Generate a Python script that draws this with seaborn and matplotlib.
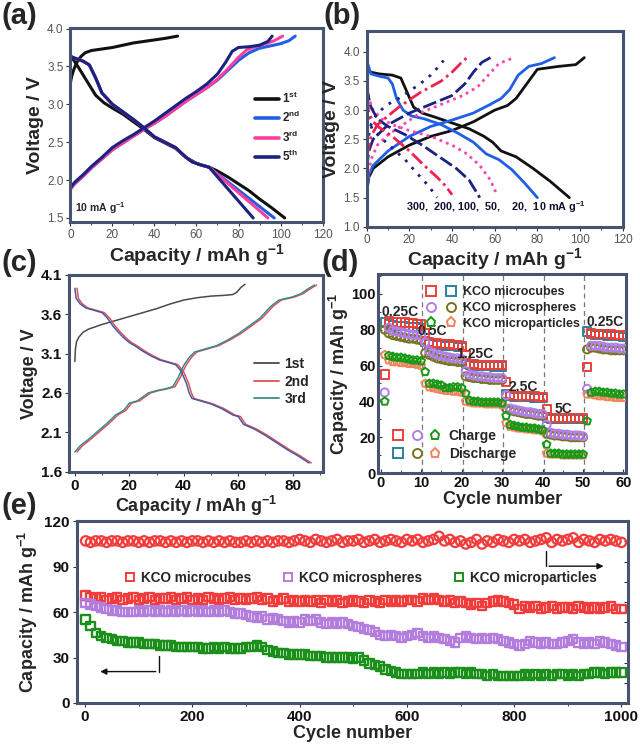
import matplotlib
matplotlib.use("Agg")
import matplotlib.pyplot as plt
import seaborn as sns
import numpy as np
from matplotlib.lines import Line2D
from matplotlib.legend_handler import HandlerTuple
from matplotlib.ticker import MultipleLocator

# ---------------- panel (a): first cycles at 10 mA/g ----------------
a1_chg_cap = [0, 0.5, 1.5, 3, 5, 7, 10, 15, 20, 25, 30, 35, 40, 45, 51]
a1_chg_v = [3.28, 3.36, 3.45, 3.55, 3.63, 3.68, 3.71, 3.73, 3.75, 3.78, 3.81, 3.83, 3.85, 3.87, 3.9]
a1_dis_cap = [0, 4, 8, 12, 16, 20, 25, 30, 35, 40, 45, 50, 55, 60, 66, 70, 75, 80, 85, 90, 96, 102]
a1_dis_v = [3.65, 3.48, 3.3, 3.12, 3.02, 2.95, 2.87, 2.77, 2.67, 2.56, 2.49, 2.42, 2.3, 2.22, 2.17,
            2.12, 2.04, 1.95, 1.86, 1.75, 1.63, 1.5]
a2_chg_cap = [0, 2, 6, 10, 15, 20, 25, 30, 35, 40, 45, 50, 55, 60, 65, 70, 75, 80, 85, 90, 95, 100, 104, 107]
a2_chg_v = [1.88, 1.95, 2.05, 2.16, 2.28, 2.4, 2.49, 2.58, 2.67, 2.75, 2.84, 2.94, 3.04, 3.13, 3.22,
            3.32, 3.45, 3.58, 3.68, 3.74, 3.77, 3.8, 3.84, 3.9]
a3_chg_cap = [0, 2, 6, 10, 15, 20, 25, 30, 35, 40, 45, 50, 55, 60, 65, 70, 75, 80, 84, 88, 93, 97, 101]
a3_chg_v = [1.88, 1.95, 2.05, 2.16, 2.28, 2.4, 2.49, 2.58, 2.67, 2.75, 2.84, 2.94, 3.04, 3.13, 3.22,
            3.33, 3.47, 3.62, 3.72, 3.76, 3.8, 3.84, 3.9]
a5_chg_cap = [0, 2, 6, 10, 15, 20, 25, 30, 35, 40, 45, 50, 55, 60, 65, 70, 74, 77, 80, 85, 90, 94, 96]
a5_chg_v = [1.9, 1.97, 2.07, 2.18, 2.3, 2.43, 2.52, 2.6, 2.69, 2.78, 2.88, 2.98, 3.08, 3.17, 3.27,
            3.4, 3.56, 3.7, 3.75, 3.76, 3.78, 3.83, 3.9]
a_dis_cap = [0, 3, 6, 9, 12, 15, 20, 25, 30, 35, 40, 45, 50, 55, 58, 62, 66]
a_dis_v = [3.63, 3.6, 3.57, 3.52, 3.35, 3.15, 3.0, 2.9, 2.8, 2.69, 2.57, 2.5, 2.43, 2.3, 2.24, 2.2, 2.17]
a2_dis_end = [97]
a3_dis_end = [94]
a5_dis_end = [87]
a_labels = ["1$^{st}$", "2$^{nd}$", "3$^{rd}$", "5$^{th}$"]
a_colors = ["#111111", "#1f5fe6", "#ff3d9e", "#1b2380"]

# ---------------- panel (b): rate curves ----------------
b_rates = ["10", "20", "50", "100", "200", "300"]
b_chg_cap = [
    [0, 1, 3, 10, 20, 30, 40, 50, 60, 66, 70, 75, 80, 90, 98, 102],
    [0, 1, 3, 10, 20, 30, 40, 50, 58, 63, 67, 71, 76, 82, 88],
    [0, 2, 5, 10, 15, 25, 35, 45, 52, 57, 62, 69],
    [0, 1, 3, 10, 20, 30, 40, 46, 50, 54, 58],
    [0, 2, 5, 10, 15, 25, 35, 40, 44, 47],
    [0, 2, 5, 10, 15, 25, 30, 33, 36],
]
b_chg_v = [
    [1.6, 1.85, 2.0, 2.2, 2.4, 2.55, 2.65, 2.8, 3.0, 3.08, 3.2, 3.45, 3.7, 3.75, 3.78, 3.9],
    [1.6, 1.9, 2.05, 2.3, 2.55, 2.72, 2.83, 2.95, 3.1, 3.2, 3.35, 3.6, 3.75, 3.8, 3.9],
    [1.7, 2.15, 2.4, 2.58, 2.7, 2.95, 3.1, 3.25, 3.4, 3.6, 3.8, 3.9],
    [2.0, 2.3, 2.5, 2.75, 2.95, 3.1, 3.25, 3.45, 3.65, 3.82, 3.9],
    [2.2, 2.55, 2.75, 2.9, 3.05, 3.3, 3.5, 3.65, 3.8, 3.9],
    [2.4, 2.75, 2.95, 3.1, 3.2, 3.45, 3.6, 3.72, 3.85],
]
b_dis_cap = [
    [0, 2, 6, 12, 16, 19, 22, 26, 32, 40, 48, 55, 59, 63, 70, 78, 86, 95],
    [0, 2, 6, 10, 12, 14, 17, 21, 27, 35, 43, 50, 56, 62, 68, 74, 80],
    [0, 1, 3, 7, 12, 20, 30, 40, 47, 53, 58, 61],
    [0, 1, 2, 5, 10, 18, 26, 34, 42, 48, 53],
    [0, 1, 3, 6, 12, 20, 27, 33, 37, 40],
    [0, 1, 3, 6, 12, 18, 24, 29, 33],
]
b_dis_v = [
    [3.72, 3.65, 3.62, 3.6, 3.55, 3.3, 3.05, 2.95, 2.88, 2.78, 2.68, 2.55, 2.45, 2.3, 2.2, 2.0, 1.78, 1.5],
    [3.85, 3.62, 3.58, 3.55, 3.45, 3.2, 3.0, 2.9, 2.85, 2.75, 2.6, 2.45, 2.25, 2.15, 1.98, 1.75, 1.5],
    [3.5, 3.2, 3.0, 2.85, 2.75, 2.65, 2.55, 2.4, 2.25, 2.05, 1.8, 1.55],
    [3.4, 3.2, 3.05, 2.85, 2.72, 2.58, 2.4, 2.2, 2.0, 1.8, 1.5],
    [3.2, 2.95, 2.8, 2.7, 2.55, 2.3, 2.05, 1.85, 1.7, 1.55],
    [3.05, 2.8, 2.65, 2.55, 2.35, 2.15, 1.9, 1.7, 1.5],
]
b_colors = ["#111111", "#1f5fe6", "#ff44aa", "#1b2380", "#f02050", "#1b2380"]
b_styles = ["-", "-", (0, (1, 1.5)), (0, (5, 1.5)), (0, (5, 1.5, 1, 1.5)), (0, (1, 2.5))]

# ---------------- panel (c): first cycles ----------------
c_labels = ["1st", "2nd", "3rd"]
c_colors = ["#4a4a4a", "#e0505a", "#3a8c8c"]
c1_chg_cap = [0, 0.2, 0.6, 1.5, 3, 5, 10, 15, 20, 25, 30, 35, 40, 45, 50, 55, 58, 59.5, 61, 62.5]
c1_chg_v = [3.0, 3.15, 3.25, 3.31, 3.37, 3.41, 3.47, 3.52, 3.57, 3.62, 3.67, 3.73, 3.78, 3.81,
            3.83, 3.84, 3.85, 3.88, 3.94, 3.98]
c_dis_cap = [0, 0.5, 2, 4, 6, 8, 10, 12, 14, 16, 18, 20, 22, 25, 28, 31, 34, 37, 39, 41, 42, 43,
             46, 50, 54, 58, 60, 62, 66, 70, 74, 78, 82, 86]
c_dis_v = [3.93, 3.8, 3.73, 3.68, 3.66, 3.64, 3.62, 3.55, 3.45, 3.37, 3.3, 3.24, 3.2, 3.13, 3.07,
           3.02, 2.99, 2.96, 2.88, 2.72, 2.6, 2.53, 2.5, 2.46, 2.4, 2.32, 2.3, 2.2, 2.14, 2.06,
           1.97, 1.88, 1.8, 1.71]
c_chg_cap = [0, 2, 5, 8, 12, 15, 18, 20, 23, 25, 27, 30, 33, 36, 38, 40, 42, 44, 48, 52, 56, 60,
             64, 68, 72, 75, 80, 83, 86, 88]
c_chg_v = [1.85, 1.93, 2.01, 2.1, 2.22, 2.32, 2.38, 2.47, 2.5, 2.55, 2.6, 2.63, 2.65, 2.68, 2.8,
           2.95, 3.05, 3.12, 3.16, 3.2, 3.27, 3.35, 3.45, 3.55, 3.7, 3.78, 3.82, 3.86, 3.93, 3.97]
c2_shift = 0.8

# ---------------- panel (d): rate performance ----------------
d_cycles = list(range(1, 61))
cubes_chg = [55, 85, 84.5, 84, 84, 84, 83.5, 83.5, 83, 83,
             78, 73, 72.5, 72.5, 72, 72, 72, 71.5, 71.5, 71,
             66, 61, 61, 60.5, 60.5, 60.5, 60.5, 60.5, 60.5, 60.5,
             51, 43.5, 43, 43, 43, 43, 43, 43, 42.5, 42.5,
             36, 30.5, 30.5, 30.5, 30.5, 30.5, 30.5, 30.5, 30.5, 30.5,
             59, 78, 77.5, 77.5, 77.5, 77.5, 77.5, 77, 77, 77]
cubes_dis = [84, 83, 82.5, 82, 82, 82, 81.5, 81.5, 81.5, 81,
             73, 72, 72, 71.5, 71.5, 71, 71, 71, 70.5, 70.5,
             61, 60.5, 60, 60, 60, 60, 60, 59.5, 59.5, 59.5,
             44, 43, 42.5, 42.5, 42.5, 42.5, 42.5, 42, 42, 42,
             31, 30, 30, 30, 30, 30, 30, 30, 30, 30,
             79, 77.5, 77, 77, 77, 76.5, 76.5, 76.5, 76.5, 76]
spheres_chg = [45, 81, 79.5, 79, 78.5, 78, 77.5, 77, 77, 76.5,
               73, 68, 67, 66, 65.5, 65, 64.5, 64, 64, 63.5,
               57, 55, 54.5, 54, 54, 53.5, 53.5, 53, 53, 53,
               43.5, 36, 35.5, 35, 34.5, 34, 34, 33.5, 33, 33,
               27, 22.5, 22, 22, 21.5, 21.5, 21, 21, 21, 20.5,
               47, 71, 71, 71, 70.5, 70, 70, 70, 69.5, 69.5]
spheres_dis = [80, 78, 77, 76.5, 76, 75.5, 75, 75, 74.5, 74,
               67, 66, 65, 64, 63.5, 63, 62.5, 62.5, 62, 62,
               54, 53.5, 53, 53, 52.5, 52.5, 52, 52, 52, 52,
               36, 35, 34.5, 34, 33.5, 33, 33, 32.5, 32, 32,
               22, 21.5, 21, 21, 20.5, 20.5, 20, 20, 20, 20,
               69, 70, 70, 69.5, 69, 69, 68.5, 68.5, 68.5, 68.5]
parts_chg = [40, 65.5, 65, 64.5, 64.5, 64, 63.5, 63, 63, 62.5,
             56.5, 50, 50, 49.5, 49, 47.5, 47.5, 48, 48, 47.5,
             44.5, 40.5, 40, 40, 39.5, 39.5, 39.5, 39.5, 39.5, 39,
             32, 27, 26.5, 26, 25.5, 25.5, 25, 25, 24.5, 24,
             16, 11, 11, 11, 10.5, 10.5, 10.5, 10.5, 10.5, 10.5,
             29, 45, 45.5, 45.5, 45, 45, 44.5, 44.5, 44, 44]
parts_dis = [66, 63, 62, 62, 61.5, 61.5, 61, 61, 60.5, 60,
             50, 48, 47.5, 47, 46.5, 46, 46, 45.5, 45.5, 45,
             40, 39.5, 39, 39, 39, 38.5, 38.5, 38.5, 38.5, 38,
             28, 26, 25.5, 25, 25, 24.5, 24.5, 24, 24, 23.5,
             11, 10.5, 10.5, 10.5, 10, 10, 10, 10, 10, 10,
             44, 44, 43.5, 43, 43, 42.5, 42.5, 42, 42, 42]
d_names = ["KCO microcubes", "KCO microspheres", "KCO microparticles"]
d_markers = ["s", "o", "p"]
d_chg_colors = ["#e8413a", "#b27fe6", "#149a14"]
d_dis_colors = ["#2e7f9c", "#75761e", "#f2835f"]
d_rate_text = ["0.25C", "0.5C", "1.25C", "2.5C", "5C", "0.25C"]
d_rate_x = [4.8, 12.8, 23.3, 35.2, 45.2, 55.5]
d_rate_y = [90, 79, 66.6, 48.2, 35.6, 84.4]
d_breaks = [10.3, 20.3, 30.3, 40.3, 50.3]

# ---------------- panel (e): long cycling at every 10th cycle ----------------
e_cycles = [1] + list(range(10, 1001, 10))
e_cubes = [71, 70, 69, 70, 68, 69, 70, 68, 69, 70, 68,
           69, 70, 68, 69, 69, 70, 68, 69, 70, 68,
           69, 68, 70, 69, 68, 69, 70, 68, 69, 68,
           69, 70, 68, 69, 67, 68, 69, 67, 68, 67,
           68, 67, 68, 66, 68, 67, 68, 66, 67, 68,
           67, 66, 68, 67, 66, 68, 67, 68, 67, 68,
           68, 67, 69, 68, 69, 68, 67, 68, 66, 67,
           66, 65, 66, 64, 66, 67, 68, 67, 66, 65,
           62, 64, 63, 64, 62, 63, 64, 62, 63, 63,
           62, 64, 63, 62, 63, 62, 63, 64, 62, 62]
e_spheres = [66, 65, 64, 63, 62, 61, 61, 60, 60, 60, 61,
             60, 61, 60, 61, 60, 61, 60, 61, 60, 61,
             60, 61, 60, 61, 60, 61, 60, 59, 59, 58,
             57, 56, 57, 55, 56, 55, 54, 53, 54, 53,
             55, 54, 55, 53, 52, 53, 52, 53, 52, 51,
             50, 49, 48, 47, 45, 44, 45, 44, 43, 44,
             45, 46, 44, 43, 44, 43, 42, 41, 40, 43,
             44, 43, 42, 43, 42, 43, 42, 41, 40, 39,
             38, 39, 41, 40, 39, 40, 39, 39, 40, 41,
             42, 40, 39, 40, 39, 41, 40, 39, 38, 37]
e_parts = [55, 51, 46, 44, 43, 42, 41, 41, 40, 40, 40,
           39, 39, 39, 38, 38, 38, 37, 37, 37, 37,
           37, 36, 36, 37, 36, 37, 36, 36, 36, 37,
           37, 38, 37, 35, 34, 33, 33, 32, 32, 32,
           32, 31, 31, 31, 30, 30, 30, 30, 30, 29,
           30, 28, 26, 25, 24, 22, 21, 20, 19, 19,
           19, 19, 20, 19, 20, 19, 20, 19, 20, 20,
           19, 20, 19, 19, 18, 19, 18, 18, 18, 18,
           18, 19, 18, 19, 18, 19, 18, 19, 19, 18,
           19, 18, 19, 19, 20, 20, 19, 20, 20, 20]
e_ce = [100.3, 99.4, 100.3, 100.3, 99.4, 100.3, 100.3, 99.4, 100.3, 100.3, 99.4,
        100.3, 99.4, 100.3, 100.3, 99.4, 100.3, 99.4, 100.3, 99.4, 100.3,
        100.3, 99.4, 100.3, 99.4, 100.3, 99.4, 100.3, 99.4, 99.4, 100.3,
        99.4, 100.3, 99.4, 100.3, 99.4, 100.3, 100.3, 99.4, 100.3, 101.2,
        100.3, 99.4, 101.2, 100.3, 99.4, 100.3, 101.2, 99.4, 100.3, 100.3,
        101.2, 99.4, 100.3, 101.2, 99.4, 100.3, 101.2, 100.3, 99.4, 101.2,
        100.3, 101.2, 99.4, 100.3, 101.2, 103.1, 100.3, 101.2, 99.4, 100.3,
        98.4, 99.4, 101.2, 98.4, 100.3, 99.4, 101.2, 100.3, 99.4, 101.2,
        100.3, 101.2, 99.4, 100.3, 101.2, 102.2, 99.4, 101.2, 100.3, 101.2,
        102.2, 99.4, 101.2, 100.3, 99.4, 101.2, 100.3, 101.2, 100.3, 99.4]
e_colors = ["#f23c3c", "#b27ddc", "#1a8f1a"]

FRAME = "#46546f"

sns.set_style("ticks")
plt.rcParams["font.family"] = ["Liberation Sans", "DejaVu Sans"]
plt.rcParams["mathtext.fontset"] = "custom"
plt.rcParams["mathtext.rm"] = "Liberation Sans"
plt.rcParams["mathtext.bf"] = "Liberation Sans:bold"
plt.rcParams["mathtext.default"] = "bf"


def style_frame(ax, small=False, direction="out", size=11):
    for s in ax.spines.values():
        s.set_color(FRAME)
        s.set_linewidth(2.2)
    if small:
        ax.tick_params(labelsize=8.5, colors="#333333", labelcolor="#555555", direction=direction,
                       length=3, width=0.8, pad=2)
        ax.tick_params(which="minor", length=2, width=0.6, direction=direction)
    else:
        ax.tick_params(labelsize=size, colors="#333333", labelcolor="#111111", direction=direction,
                       length=3, width=0.8, pad=2)
        ax.tick_params(which="minor", length=2, width=0.6, direction=direction)
        for lab in ax.get_xticklabels() + ax.get_yticklabels():
            lab.set_fontweight("bold")


def line(ax, x, y, color, lw=2.0, ls="-"):
    sns.lineplot(x=x, y=y, ax=ax, sort=False, estimator=None, color=color, linewidth=lw,
                 linestyle=ls, legend=False)


fig = plt.figure(figsize=(6.4, 7.51), dpi=100)
ax_a = fig.add_axes([0.110, 0.704, 0.394, 0.259])
ax_b = fig.add_axes([0.573, 0.698, 0.400, 0.261])
ax_c = fig.add_axes([0.108, 0.372, 0.396, 0.262])
ax_d = fig.add_axes([0.591, 0.370, 0.387, 0.265])
ax_e = fig.add_axes([0.120, 0.064, 0.861, 0.242])

big_lab = dict(fontsize=14, fontweight="bold")
lab_kw = dict(fontsize=13, fontweight="bold")

# (a)
line(ax_a, a1_chg_cap, a1_chg_v, a_colors[0], 2.2)
line(ax_a, a1_dis_cap, a1_dis_v, a_colors[0], 2.2)
for cap, v, end, col in [(a2_chg_cap, a2_chg_v, a2_dis_end, a_colors[1]),
                         (a3_chg_cap, a3_chg_v, a3_dis_end, a_colors[2]),
                         (a5_chg_cap, a5_chg_v, a5_dis_end, a_colors[3])]:
    line(ax_a, cap, v, col, 2.2)
    line(ax_a, a_dis_cap + end, a_dis_v + [1.5], col, 2.2)
a_handles = [Line2D([], [], color=c, lw=2.6) for c in a_colors]
ax_a.legend(a_handles, a_labels, loc="upper left", bbox_to_anchor=(0.69, 0.73), frameon=False,
            prop=dict(weight="bold", size=8.5), handlelength=2.0, labelspacing=0.35,
            handletextpad=0.3)
ax_a.text(2, 1.53, "10 mA g$^{-1}$", fontsize=7.5, fontweight="bold", va="bottom")
ax_a.set_xlim(0, 120)
ax_a.set_ylim(1.443, 4.01)
ax_a.xaxis.set_major_locator(MultipleLocator(20))
ax_a.xaxis.set_minor_locator(MultipleLocator(10))
ax_a.yaxis.set_major_locator(MultipleLocator(0.5))
ax_a.set_xlabel("Capacity / mAh g$^{-1}$", labelpad=0.5, **big_lab)
ax_a.set_ylabel("Voltage / V", labelpad=2, **big_lab)
style_frame(ax_a, small=True)

# (b)
for i in range(len(b_rates)):
    line(ax_b, b_chg_cap[i], b_chg_v[i], b_colors[i], 2.0, b_styles[i])
    line(ax_b, b_dis_cap[i], b_dis_v[i], b_colors[i], 2.0, b_styles[i])
ax_b.text(60.5, 1.2, "300,  200, 100,  50,    20,  10 mA g$^{-1}$", ha="center", va="bottom",
          fontsize=7.8, fontweight="bold", color="#111133")
ax_b.set_xlim(0, 120)
ax_b.set_ylim(1.0, 4.36)
ax_b.xaxis.set_major_locator(MultipleLocator(20))
ax_b.xaxis.set_minor_locator(MultipleLocator(10))
ax_b.set_yticks(np.arange(1.0, 4.01, 0.5))
ax_b.set_xlabel("Capacity / mAh g$^{-1}$", labelpad=0.5, **big_lab)
ax_b.set_ylabel("Voltage / V", labelpad=2, **big_lab)
style_frame(ax_b, small=True)

# (c)
line(ax_c, c1_chg_cap, c1_chg_v, c_colors[0], 1.1)
line(ax_c, [x + c2_shift for x in c_chg_cap], c_chg_v, c_colors[1], 1.1)
line(ax_c, [x + c2_shift for x in c_dis_cap], c_dis_v, c_colors[1], 1.1)
line(ax_c, c_chg_cap, c_chg_v, c_colors[2], 1.1)
line(ax_c, c_dis_cap, c_dis_v, "#4a5aa0", 1.1)
c_handles = [Line2D([], [], color=c, lw=1.3) for c in c_colors]
ax_c.legend(c_handles, c_labels, loc="upper left", bbox_to_anchor=(0.68, 0.645), frameon=False,
            prop=dict(weight="bold", size=10), handlelength=1.8, labelspacing=0.25,
            handletextpad=0.4)
ax_c.set_xlim(-2.1, 91)
ax_c.set_ylim(1.6, 4.1)
ax_c.set_xticks([0, 20, 40, 60, 80])
ax_c.xaxis.set_minor_locator(MultipleLocator(10))
ax_c.set_yticks([1.6, 2.1, 2.6, 3.1, 3.6, 4.1])
ax_c.set_xlabel("Capacity / mAh g$^{-1}$", labelpad=1, **lab_kw)
ax_c.set_ylabel("Voltage / V", labelpad=2, **lab_kw)
style_frame(ax_c)

# (d)
for xb in d_breaks:
    ax_d.axvline(xb, color="#777777", lw=0.9, ls=(0, (4, 3)), zorder=0)
d_chg = [cubes_chg, spheres_chg, parts_chg]
d_dis = [cubes_dis, spheres_dis, parts_dis]
for i in range(3):
    sns.scatterplot(x=d_cycles, y=d_dis[i], ax=ax_d, marker=d_markers[i], s=34,
                    facecolor="none", edgecolor=d_dis_colors[i], linewidth=1.4, zorder=3)
for i in range(3):
    sns.scatterplot(x=d_cycles, y=d_chg[i], ax=ax_d, marker=d_markers[i], s=34,
                    facecolor="none", edgecolor=d_chg_colors[i], linewidth=1.4, zorder=4)
for t, x, y in zip(d_rate_text, d_rate_x, d_rate_y):
    ax_d.text(x, y, t, ha="center", va="center", fontsize=10, fontweight="bold", zorder=5)


def mk(marker, color):
    return Line2D([], [], marker=marker, ls="none", markersize=6.5, markerfacecolor="none",
                  markeredgecolor=color, markeredgewidth=1.4)


top_handles = [(mk(d_markers[i], d_chg_colors[i]), mk(d_markers[i], d_dis_colors[i])) for i in range(3)]
leg1 = ax_d.legend(top_handles, d_names, loc="upper left", bbox_to_anchor=(0.15, 0.995),
                   frameon=False, prop=dict(weight="bold", size=9), labelspacing=0.3,
                   handlelength=2.3, handletextpad=0.6,
                   handler_map={tuple: HandlerTuple(ndivide=None, pad=0.9)})
ax_d.add_artist(leg1)
bot_handles = [tuple(mk(d_markers[i], d_chg_colors[i]) for i in range(3)),
               tuple(mk(d_markers[i], d_dis_colors[i]) for i in range(3))]
ax_d.legend(bot_handles, ["Charge", "Discharge"], loc="lower left", bbox_to_anchor=(0.01, 0.0),
            frameon=False, prop=dict(weight="bold", size=10), labelspacing=0.25,
            handlelength=3.4, handletextpad=0.6,
            handler_map={tuple: HandlerTuple(ndivide=None, pad=0.6)})
ax_d.set_xlim(-0.6, 60.6)
ax_d.set_ylim(0, 111)
ax_d.xaxis.set_major_locator(MultipleLocator(10))
ax_d.xaxis.set_minor_locator(MultipleLocator(5))
ax_d.yaxis.set_major_locator(MultipleLocator(20))
ax_d.yaxis.set_minor_locator(MultipleLocator(10))
ax_d.set_xlabel("Cycle number", labelpad=1, **lab_kw)
ax_d.set_ylabel("Capacity / mAh g$^{-1}$", labelpad=0, **lab_kw)
style_frame(ax_d, direction="in", size=10.5)

# (e)
ax_e2 = ax_e.twinx()
sns.scatterplot(x=e_cycles, y=e_ce, ax=ax_e2, marker="o", s=46, facecolor="none",
                edgecolor=e_colors[0], linewidth=1.6)
ax_e2.set_ylim(0, 112.5)
ax_e2.set_yticks(np.arange(0, 112.6, 12.5))
ax_e2.set_yticklabels([])
ax_e2.set_ylabel("")
ax_e2.tick_params(direction="in", length=3, width=0.8, colors="#333333")
for s in ax_e2.spines.values():
    s.set_visible(False)
for vals, col in zip([e_cubes, e_spheres, e_parts], e_colors):
    sns.scatterplot(x=e_cycles, y=vals, ax=ax_e, marker="s", s=36, facecolor="none",
                    edgecolor=col, linewidth=1.7, legend=False)
e_handles = [Line2D([], [], marker="s", ls="none", markersize=5.5, markerfacecolor="none",
                    markeredgecolor=c, markeredgewidth=1.4) for c in e_colors]
ax_e.legend(e_handles, d_names, loc="center", bbox_to_anchor=(0.514, 0.69), ncol=3,
            frameon=False, prop=dict(weight="bold", size=9.8), columnspacing=2.2,
            handletextpad=0.3, handlelength=1.0)
arrow_kw = dict(arrowstyle="-|>", color="#111111", lw=1.0, mutation_scale=9)
ax_e.plot([860, 860], [100, 90.3], color="#111111", lw=1.0)
ax_e.annotate("", xy=(972, 90.3), xytext=(860, 90.3), arrowprops=arrow_kw)
ax_e.plot([137, 137], [31, 20.7], color="#111111", lw=1.0)
ax_e.annotate("", xy=(23, 20.7), xytext=(137, 20.7), arrowprops=arrow_kw)
ax_e.set_xlim(-15.5, 1012)
ax_e.set_ylim(0, 120)
ax_e.xaxis.set_major_locator(MultipleLocator(200))
ax_e.xaxis.set_minor_locator(MultipleLocator(100))
ax_e.yaxis.set_major_locator(MultipleLocator(30))
ax_e.set_xlabel("Cycle number", labelpad=1, **lab_kw)
ax_e.set_ylabel("Capacity / mAh g$^{-1}$", labelpad=3, **lab_kw)
style_frame(ax_e)
ax_e.set_zorder(ax_e2.get_zorder() + 1)
ax_e.patch.set_visible(False)

# panel letters
for lab, x, y in [("(a)", 0.003, 0.998), ("(b)", 0.506, 0.998), ("(c)", 0.003, 0.668),
                  ("(d)", 0.503, 0.668), ("(e)", 0.003, 0.345)]:
    fig.text(x, y, lab, fontsize=21, fontweight="bold", ha="left", va="top")

fig.savefig("out.png", dpi=100)
plt.close(fig)
